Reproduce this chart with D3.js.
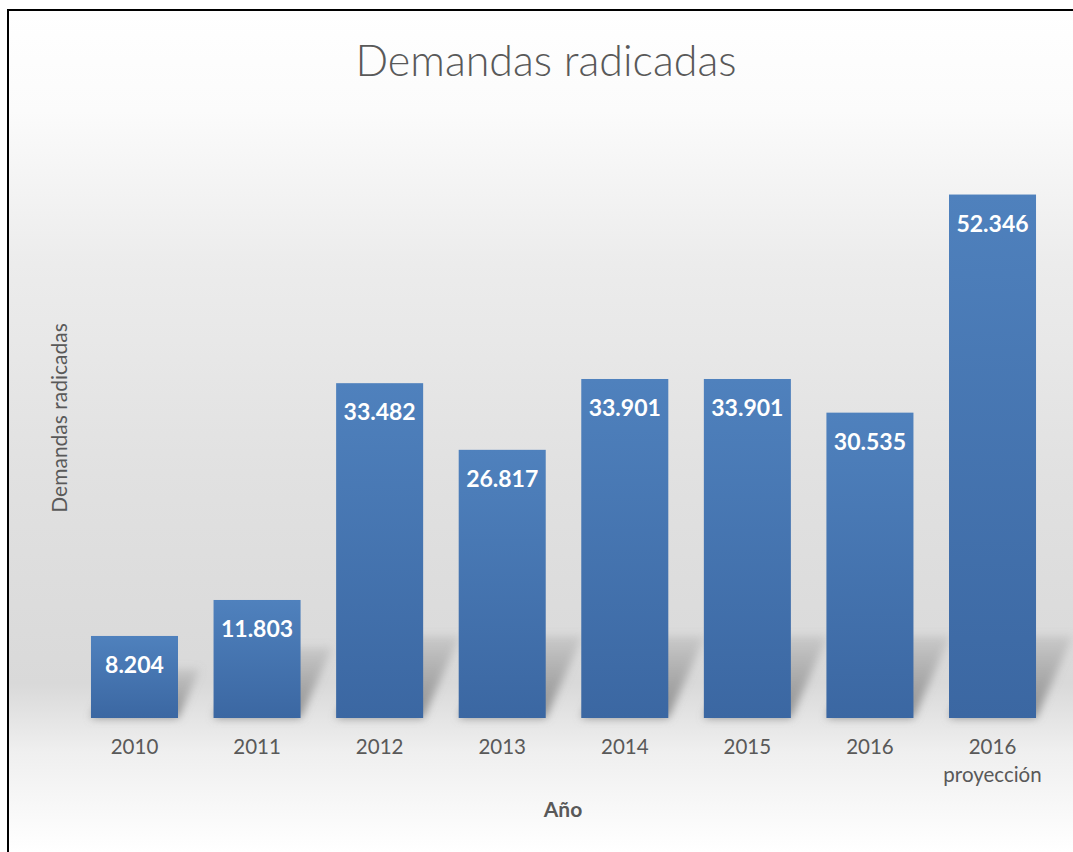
<!DOCTYPE html>
<html>
<head>
<meta charset="utf-8">
<script src="https://cdn.jsdelivr.net/npm/d3@7"></script>
<style>
  html, body { margin: 0; padding: 0; background: #ffffff; }
  svg { display: block; }
</style>
</head>
<body>
<script>
const categories = ["2010", "2011", "2012", "2013", "2014", "2015", "2016", "2016\nproyección"];
const values = [8204, 11803, 33482, 26817, 33901, 33901, 30535, 52346];
const valueLabels = ["8.204", "11.803", "33.482", "26.817", "33.901", "33.901", "30.535", "52.346"];
const chartTitle = "Demandas radicadas";
const xTitle = "Año";
const yTitle = "Demandas radicadas";

const W = 1073, H = 852;
const FONT = "Lato, 'Open Sans', sans-serif";
const svg = d3.select("body").append("svg").attr("width", W).attr("height", H);
const defs = svg.append("defs");

// background gradient
const bg = defs.append("linearGradient").attr("id", "bg").attr("x1", 0).attr("y1", 0).attr("x2", 0).attr("y2", 1);
[[0, "#ffffff"], [0.12, "#fbfbfb"], [0.3, "#ececec"], [0.55, "#e1e1e1"], [0.8, "#d9d9d9"], [0.88, "#efefef"], [1, "#ffffff"]]
  .forEach(([o, c]) => bg.append("stop").attr("offset", o).attr("stop-color", c));

const barGrad = defs.append("linearGradient").attr("id", "barg").attr("x1", 0).attr("y1", 0).attr("x2", 0).attr("y2", 1);
barGrad.append("stop").attr("offset", 0).attr("stop-color", "#4f81bd");
barGrad.append("stop").attr("offset", 1).attr("stop-color", "#3b67a2");

const shadowGrad = defs.append("linearGradient").attr("id", "shg").attr("x1", 0).attr("y1", 1).attr("x2", 0).attr("y2", 0);
shadowGrad.append("stop").attr("offset", 0).attr("stop-color", "#858585").attr("stop-opacity", 0.9);
shadowGrad.append("stop").attr("offset", 1).attr("stop-color", "#858585").attr("stop-opacity", 0.2);

const blur = defs.append("filter").attr("id", "blur").attr("x", "-50%").attr("y", "-50%").attr("width", "200%").attr("height", "200%");
blur.append("feGaussianBlur").attr("stdDeviation", 4);

svg.append("rect").attr("x", 8).attr("y", 10).attr("width", W - 8).attr("height", H - 10).attr("fill", "url(#bg)");

// scales
const x = d3.scaleBand().domain(categories).range([73.2, 1053.8]).paddingInner(0.29).paddingOuter(0.145);
const y = d3.scaleLinear().domain([0, 60000]).range([718, 118]);

// shadows
const g = svg.append("g");
g.selectAll("path.shadow").data(values).join("path")
  .attr("class", "shadow")
  .attr("d", (d, i) => {
    const x0 = x(categories[i]), x1 = x0 + x.bandwidth();
    const h = y(0) - y(d);
    const dy = Math.min(h * 0.6, 82);
    const dx = dy * 0.45;
    const b = y(0);
    return `M${x0},${b}L${x1},${b}L${x1 + dx},${b - dy}L${x0 + dx},${b - dy}Z`;
  })
  .attr("fill", "url(#shg)")
  .attr("filter", "url(#blur)");

// bars
g.selectAll("rect.bar").data(values).join("rect")
  .attr("class", "bar")
  .attr("x", (d, i) => x(categories[i]))
  .attr("width", x.bandwidth())
  .attr("y", d => y(d))
  .attr("height", d => y(0) - y(d))
  .attr("fill", "url(#barg)");

// value labels
g.selectAll("text.val").data(values).join("text")
  .attr("class", "val")
  .attr("x", (d, i) => x(categories[i]) + x.bandwidth() / 2)
  .attr("y", d => y(d) + 37)
  .attr("text-anchor", "middle")
  .attr("font-family", FONT)
  .attr("font-weight", "bold")
  .attr("font-size", 23)
  .attr("fill", "#ffffff")
  .text((d, i) => valueLabels[i]);

// x axis labels
const xAxis = d3.axisBottom(x).tickSize(0).tickPadding(0);
const ax = svg.append("g").attr("transform", `translate(0,${y(0)})`).call(xAxis);
ax.select(".domain").remove();
ax.selectAll(".tick text").each(function(d) {
  const t = d3.select(this);
  const lines = d.split("\n");
  t.text(null)
    .attr("y", 36)
    .attr("font-family", FONT)
    .attr("font-size", 20.5)
    .attr("fill", "#595959");
  lines.forEach((ln, k) => {
    t.append("tspan").attr("x", 0).attr("dy", k === 0 ? 0 : 28).text(ln);
  });
});

// title
svg.append("text")
  .attr("x", 546).attr("y", 76)
  .attr("text-anchor", "middle")
  .attr("font-family", FONT)
  .attr("font-weight", 300)
  .attr("font-size", 43)
  .attr("fill", "#595959")
  .text(chartTitle);

// axis titles
svg.append("text")
  .attr("x", 563).attr("y", 817)
  .attr("text-anchor", "middle")
  .attr("font-family", FONT)
  .attr("font-weight", "bold")
  .attr("font-size", 21)
  .attr("fill", "#595959")
  .text(xTitle);

svg.append("text")
  .attr("transform", "translate(67,418) rotate(-90)")
  .attr("text-anchor", "middle")
  .attr("font-family", FONT)
  .attr("font-size", 21)
  .attr("fill", "#595959")
  .text(yTitle);

// border
svg.append("path")
  .attr("d", `M8,${H}L8,10L${W},10`)
  .attr("fill", "none")
  .attr("stroke", "#000")
  .attr("stroke-width", 2);
</script>
</body>
</html>
